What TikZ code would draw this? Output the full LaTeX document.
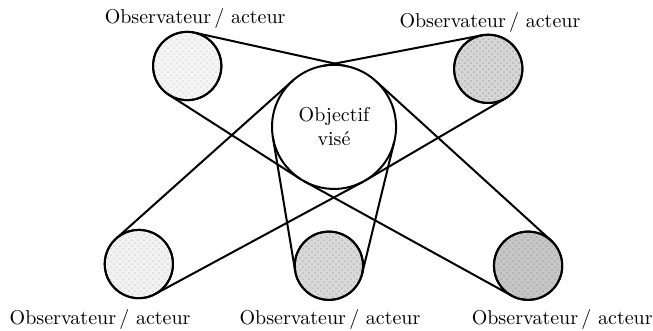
\documentclass[tikz,border=0pt]{standalone}
\usepackage{fontspec}
\usetikzlibrary{patterns}
\tikzset{
    observer/.style={circle, draw, line width=1pt, minimum size=1.2cm, inner sep=0pt, outer sep=0pt},
    mesh/.style={postaction={pattern=crosshatch dots, pattern color=#1}, postaction={draw}},
    target/.style={circle, draw, line width=1pt, fill=white, minimum size=2.18cm, inner sep=0pt, outer sep=0pt, align=center},
    sightline/.style={line width=1pt},
}
\begin{document}
\begin{tikzpicture}
    \useasboundingbox (0,0) rectangle (11.475,5.8);
    \node[observer, fill=gray!8, mesh=gray!25] (tl) at (3.29,4.64) {};
    \node[observer, fill=gray!32, mesh=gray!60] (tr) at (8.58,4.59) {};
    \node[observer, fill=gray!10, mesh=gray!30] (bl) at (2.44,1.16) {};
    \node[observer, fill=gray!30, mesh=gray!55] (bm) at (5.78,1.13) {};
    \node[observer, fill=gray!45, mesh=gray!65] (br) at (9.28,1.13) {};
    \node[target] (obj) at (5.87,3.57) {Objectif\\visé};
    \node (tllabel) at (3.43,5.48) {Observateur\,/ acteur};
    \node (trlabel) at (8.61,5.41) {Observateur\,/ acteur};
    \node (bllabel) at (1.76,0.18) {Observateur\,/ acteur};
    \node (bmlabel) at (5.80,0.18) {Observateur\,/ acteur};
    \node (brlabel) at (9.88,0.18) {Observateur\,/ acteur};
    % outer tangents: same angle on both circles
    \draw[sightline] (tl.77.6) -- (obj.77.6);
    \draw[sightline] (tl.237.4) -- (obj.237.4);
    \draw[sightline] (tr.100.9) -- (obj.100.9);
    \draw[sightline] (tr.300.4) -- (obj.300.4);
    \draw[sightline] (bl.131.8) -- (obj.131.8);
    \draw[sightline] (bl.298.4) -- (obj.298.4);
    \draw[sightline] (bm.189.6) -- (obj.189.6);
    \draw[sightline] (bm.346.4) -- (obj.346.4);
    \draw[sightline] (br.47.7) -- (obj.47.7);
    \draw[sightline] (br.241.1) -- (obj.241.1);
\end{tikzpicture}
\end{document}
